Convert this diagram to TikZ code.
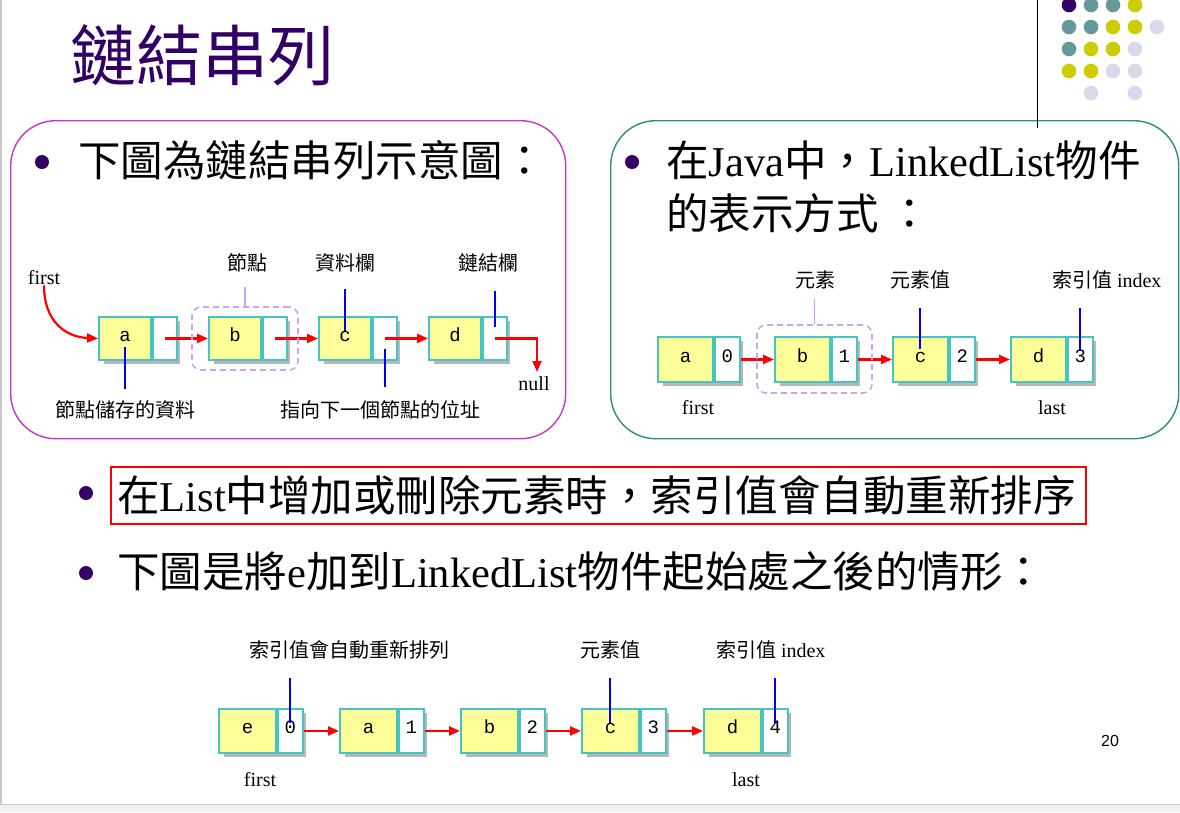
\documentclass[tikz,border=0pt]{standalone}
\usepackage{fontspec}
\setmainfont{Liberation Serif}
\newfontfamily\cjk{Noto Sans CJK TC}
\newfontfamily\mono{Liberation Mono}
\newfontfamily\sans{Liberation Sans}
\usetikzlibrary{arrows.meta,calc}

\definecolor{titlepurple}{HTML}{330066}
\definecolor{dotteal}{HTML}{669999}
\definecolor{dotyellow}{HTML}{CCCC00}
\definecolor{dotlav}{HTML}{D9D9EB}
\definecolor{boxmagenta}{HTML}{CC33CC}
\definecolor{boxteal}{HTML}{2E8C80}
\definecolor{cellyellow}{HTML}{FFFF99}
\definecolor{cellborder}{HTML}{44C4C4}
\definecolor{shadowgray}{HTML}{B8B8B8}
\definecolor{grouplav}{HTML}{C4A6F2}
\definecolor{linkred}{HTML}{FF0000}
\definecolor{markblue}{HTML}{0000EE}
\definecolor{framegray}{HTML}{C8C8C8}

\tikzset{
  cellbase/.style={draw=cellborder, line width=1.9pt, inner sep=0pt,
    text height=12pt, text depth=6pt, font=\mono\fontsize{19}{19}\selectfont},
  datacell/.style={cellbase, fill=cellyellow},
  ptrcell/.style={cellbase, fill=white},
  link/.style={draw=linkred, line width=2.2pt, -{Triangle[length=11pt,width=9pt]}},
  markline/.style={draw=markblue, line width=2pt},
  groupbox/.style={draw=grouplav, line width=1.6pt, dash pattern=on 6pt off 4pt,
    rounded corners=9pt, inner sep=0pt},
  groupline/.style={draw=grouplav, line width=1.5pt},
  label/.style={font=\cjk\fontsize{20}{22}\selectfont, inner sep=0pt},
  latlabel/.style={font=\fontsize{20}{22}\selectfont, inner sep=0pt},
  bodytext/.style={font=\cjk\fontsize{42.5}{48}\selectfont, inner sep=0pt, anchor=west},
  bullet/.style={circle, fill=titlepurple, inner sep=0pt, minimum size=14pt},
  panel/.style={line width=1.4pt, rounded corners=45pt, inner sep=0pt, anchor=north west},
}

% one list node: name, left x, top y, value, index, data width, pointer width, height
\newcommand\cellpair[8]{%
  \fill[shadowgray] (#2+6,#3+5) rectangle ++(#6+#7,#8);
  \node[datacell, minimum width=#6, minimum height=#8, anchor=north west] (#1) at (#2,#3) {#4};
  \node[ptrcell, minimum width=#7, minimum height=#8, anchor=west] (#1p) at (#1.east) {#5};
}

\begin{document}
\begin{tikzpicture}[x=1pt,y=-1pt]
\useasboundingbox (0,0) rectangle (1180,812);
\fill[white] (0,0) rectangle (1180,812);

% slide frame
\fill[gray!12] (0,804) rectangle (1180,812);
\draw[framegray, line width=1pt] (0,804) -- (1180,804);
\draw[framegray, line width=2pt] (1,0) -- (1,804);

% decorative dots
\foreach \x/\y/\c in {
  1069/5/titlepurple, 1091/5/dotteal, 1113/5/dotteal, 1135/5/dotyellow,
  1069/27/dotteal, 1091/27/dotteal, 1113/27/dotyellow, 1135/27/dotyellow, 1157/27/dotlav,
  1069/49/dotteal, 1091/49/dotyellow, 1113/49/dotyellow, 1135/49/dotlav,
  1069/71/dotyellow, 1091/71/dotyellow, 1113/71/dotlav, 1135/71/dotlav,
  1091/93/dotlav, 1135/93/dotlav}
  \fill[\c] (\x,\y) circle (7.3pt);

% title
\node[font=\cjk\fontsize{66}{70}\selectfont, text=titlepurple, anchor=west, inner sep=0pt]
  (title) at (70,55) {鏈結串列};

% panels
\node[panel, draw=boxmagenta, minimum width=555pt, minimum height=318pt] (leftpanel) at (10,120) {};
\node[panel, draw=boxteal, minimum width=568pt, minimum height=318pt] (rightpanel) at (610,120) {};
\coordinate (ruletop) at (1037,0);
\coordinate (rulebot) at (1037,128);
\draw[black, line width=1pt] (ruletop) -- (rulebot);

% bullet points
\node[bullet] (b1) at (42,162) {};
\node[bodytext] (t1) at (78,160) {下圖為鏈結串列示意圖：};
\node[bullet] (b2) at (632,162) {};
\node[bodytext] (t2a) at (666,160) {在{\rmfamily Java}中，{\rmfamily LinkedList}物件};
\node[bodytext] (t2b) at (666,213) {的表示方式 ：};

\node[bullet] (b3) at (86,493) {};
\node[draw=red, line width=2pt, minimum width=975pt, minimum height=57pt, anchor=north west,
  inner sep=0pt] (frame) at (110,466) {};
\node[bodytext] (t3) at ($(frame.west)+(7,0)$) {在{\rmfamily List}中增加或刪除元素時，索引值會自動重新排序};
\node[bullet] (b4) at (86,573) {};
\node[bodytext] (t4) at (117,571) {下圖是將{\rmfamily e}加到{\rmfamily LinkedList}物件起始處之後的情形：};

% ---- diagram 1: generic linked list ----
\cellpair{a1}{98}{316}{a}{}{52}{24}{43}
\cellpair{b1n}{208}{316}{b}{}{52}{24}{43}
\cellpair{c1}{318}{316}{c}{}{52}{24}{43}
\cellpair{d1}{428}{316}{d}{}{52}{24}{43}

\node[latlabel] (first1) at (44,278) {first};
\draw[link] (first1.south) .. controls (44,322) and (66,337) .. (a1.west);
\draw[link] (a1p.center) -- (b1n.west);
\draw[link] (b1np.center) -- (c1.west);
\draw[link] (c1p.center) -- (d1.west);
\coordinate (nullend) at (537,372);
\draw[link] (d1p.center) -| (nullend);
\node[latlabel] (null1) at (534,384) {null};

\node[groupbox, minimum width=106pt, minimum height=63pt] (grp1) at (245,338.5) {};
\node[label] (lnode) at (247,263) {節點};
\draw[groupline] (grp1.north) -- ++(0,-19);

\node[label] (ldata) at (345,263) {資料欄};
\draw[markline] ($(c1.center)+(0,-7)$) -- ($(c1.center)+(0,-49)$);
\node[label] (llink) at (488,263) {鏈結欄};
\draw[markline] ($(d1p.center)+(0,-11)$) -- ($(d1p.center)+(0,-47)$);
\node[label] (lstore) at (125,410) {節點儲存的資料};
\draw[markline] ($(a1.center)+(0,9)$) -- ($(a1.center)+(0,51)$);
\node[label] (lnext) at (380,410) {指向下一個節點的位址};
\draw[markline] ($(c1p.center)+(0,11)$) -- ($(c1p.center)+(0,49)$);

% ---- diagram 2: LinkedList with indices ----
\cellpair{a2}{657}{336}{a}{0}{55}{25}{45}
\cellpair{b2}{774}{336}{b}{1}{55}{25}{45}
\cellpair{c2}{892}{336}{c}{2}{55}{25}{45}
\cellpair{d2}{1010}{336}{d}{3}{55}{25}{45}
\draw[link] (a2p.east) -- (b2.west);
\draw[link] (b2p.east) -- (c2.west);
\draw[link] (c2p.east) -- (d2.west);

\node[groupbox, minimum width=115pt, minimum height=68pt] (grp2) at (814.5,359) {};
\node[label] (lelem) at (815,280) {元素};
\draw[groupline] (grp2.north) -- ++(0,-25);
\node[label] (lval2) at (920,280) {元素值};
\draw[markline] ($(c2.center)+(0,-10)$) -- ($(c2.center)+(0,-51)$);
\node[label] (lidx2) at (1107,280) {索引值 {\rmfamily index}};
\draw[markline] ($(d2p.center)+(0,-8)$) -- ($(d2p.center)+(0,-51)$);
\node[latlabel] (first2) at (698,408) {first};
\node[latlabel] (last2) at (1052,408) {last};

% ---- diagram 3: after inserting e at the front ----
\cellpair{e3}{218}{708}{e}{0}{57}{25}{44}
\cellpair{a3}{339}{708}{a}{1}{57}{25}{44}
\cellpair{b3}{460}{708}{b}{2}{57}{25}{44}
\cellpair{c3}{581}{708}{c}{3}{57}{25}{44}
\cellpair{d3}{703}{708}{d}{4}{57}{25}{44}
\draw[link] (e3p.east) -- (a3.west);
\draw[link] (a3p.east) -- (b3.west);
\draw[link] (b3p.east) -- (c3.west);
\draw[link] (c3p.east) -- (d3.west);

\node[label] (lre) at (349,650) {索引值會自動重新排列};
\draw[markline] ($(e3p.center)+(0,-8)$) -- ($(e3p.center)+(0,-53)$);
\node[label] (lval3) at (610,650) {元素值};
\draw[markline] ($(c3.center)+(0,-8)$) -- ($(c3.center)+(0,-53)$);
\node[label] (lidx3) at (771,650) {索引值 {\rmfamily index}};
\draw[markline] ($(d3p.center)+(0,-8)$) -- ($(d3p.center)+(0,-53)$);
\node[latlabel] (first3) at (260,780) {first};
\node[latlabel] (last3) at (746,780) {last};

% page number
\node[font=\sans\fontsize{16}{18}\selectfont, inner sep=0pt] (pageno) at (1110,741) {20};
\end{tikzpicture}
\end{document}
